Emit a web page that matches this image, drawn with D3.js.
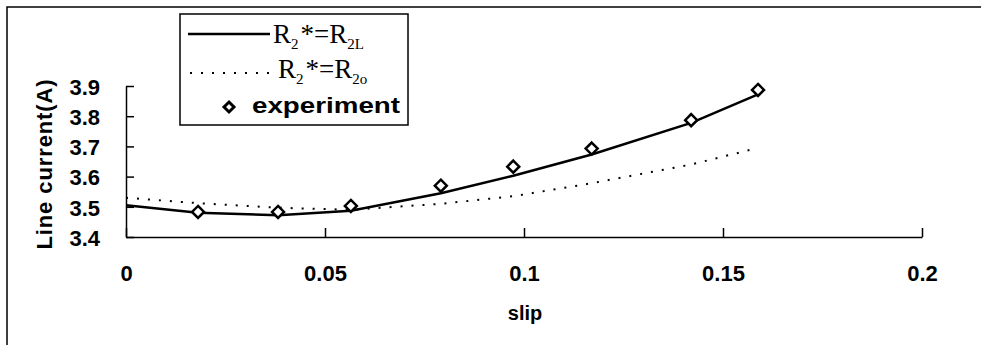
<!DOCTYPE html>
<html>
<head>
<meta charset="utf-8">
<script src="https://cdn.jsdelivr.net/npm/d3@7"></script>
<style>
  html, body { margin: 0; padding: 0; background: #fff; }
  svg { display: block; }
  .axis text { font-family: "Liberation Sans", Arial, sans-serif; font-weight: bold; font-size: 22px; fill: #000; }
  .axis path, .axis line { stroke: #000; stroke-width: 1.5; }
</style>
</head>
<body>
<div id="chart"></div>
<script>
// slip values of the measured points
var slip = [0.0181, 0.0382, 0.0565, 0.0791, 0.0973, 0.117, 0.142, 0.1588];
var experiment = [3.483, 3.483, 3.503, 3.57, 3.633, 3.693, 3.787, 3.887];

// computed curves (start at slip 0, then at the measured slips)
var curveSlip = [0, 0.0181, 0.0382, 0.0565, 0.0791, 0.0973, 0.117, 0.142, 0.1588];
var r2L = [3.505, 3.48, 3.472, 3.487, 3.545, 3.603, 3.673, 3.778, 3.872];
var r2o = [3.53, 3.512, 3.497, 3.49, 3.51, 3.535, 3.578, 3.64, 3.695];

var xTicks = [0, 0.05, 0.1, 0.15, 0.2];
var xTickLabels = ["0", "0.05", "0.1", "0.15", "0.2"];
var yTicks = [3.4, 3.5, 3.6, 3.7, 3.8, 3.9];
var yTickLabels = ["3.4", "3.5", "3.6", "3.7", "3.8", "3.9"];

var W = 981, H = 345;

var svg = d3.select("#chart").append("svg")
    .attr("width", W)
    .attr("height", H);

svg.append("rect").attr("width", W).attr("height", H).attr("fill", "#fff");

// outer frame (right and bottom edges fall outside the picture)
svg.append("rect")
    .attr("x", 7).attr("y", 7)
    .attr("width", W + 10).attr("height", H + 10)
    .attr("fill", "none").attr("stroke", "#000").attr("stroke-width", 1.5);

var x = d3.scaleLinear().domain([0, 0.2]).range([126, 922]);
var y = d3.scaleLinear().domain([3.4, 3.9]).range([237, 86]);

var xAxis = d3.axisBottom(x)
    .tickValues(xTicks)
    .tickFormat(function (d, i) { return xTickLabels[i]; })
    .tickSizeInner(-9)
    .tickSizeOuter(0)
    .tickPadding(28);

var yAxis = d3.axisLeft(y)
    .tickValues(yTicks)
    .tickFormat(function (d, i) { return yTickLabels[i]; })
    .tickSizeInner(-8)
    .tickSizeOuter(0)
    .tickPadding(26);

svg.append("g").attr("class", "axis")
    .attr("transform", "translate(0," + y(3.4) + ")")
    .call(xAxis)
    .selectAll("text").attr("dy", "0.71em");

svg.append("g").attr("class", "axis")
    .attr("transform", "translate(" + x(0) + ",0)")
    .call(yAxis)
    .selectAll("text").attr("dy", "0.38em");

// axis titles
svg.append("text")
    .attr("x", 525).attr("y", 320)
    .attr("text-anchor", "middle")
    .style("font-family", "'Liberation Sans', Arial, sans-serif")
    .style("font-weight", "bold")
    .style("font-size", "20px")
    .text("slip");

svg.append("text")
    .attr("transform", "translate(52,164) rotate(-90)")
    .attr("text-anchor", "middle")
    .style("font-family", "'Liberation Sans', Arial, sans-serif")
    .style("font-weight", "bold")
    .style("font-size", "22px")
    .style("letter-spacing", "0.9px")
    .text("Line current(A)");

// series
var line = d3.line()
    .x(function (d) { return x(d[0]); })
    .y(function (d) { return y(d[1]); });

svg.append("path")
    .datum(d3.zip(curveSlip, r2o))
    .attr("d", line)
    .attr("fill", "none")
    .attr("stroke", "#000")
    .attr("stroke-width", 2)
    .attr("stroke-dasharray", "2,9");

svg.append("path")
    .datum(d3.zip(curveSlip, r2L))
    .attr("d", line)
    .attr("fill", "none")
    .attr("stroke", "#000")
    .attr("stroke-width", 2.5);

var diamond = function (cx, cy, r) {
    return "M" + cx + "," + (cy - r) + "L" + (cx + r) + "," + cy + "L" + cx + "," + (cy + r) + "L" + (cx - r) + "," + cy + "Z";
};

svg.append("g").selectAll("path")
    .data(d3.zip(slip, experiment))
    .enter().append("path")
    .attr("d", function (d) { return diamond(x(d[0]), y(d[1]), 6); })
    .attr("fill", "#fff")
    .attr("stroke", "#000")
    .attr("stroke-width", 2.5);

// legend
var lg = svg.append("g");
lg.append("rect")
    .attr("x", 180).attr("y", 14)
    .attr("width", 228).attr("height", 111)
    .attr("fill", "#fff").attr("stroke", "#000").attr("stroke-width", 1.5);

lg.append("line")
    .attr("x1", 188).attr("x2", 270).attr("y1", 34).attr("y2", 34)
    .attr("stroke", "#000").attr("stroke-width", 2.5);
lg.append("line")
    .attr("x1", 190).attr("x2", 270).attr("y1", 73).attr("y2", 73)
    .attr("stroke", "#000").attr("stroke-width", 2).attr("stroke-dasharray", "2,9");
lg.append("path")
    .attr("d", diamond(229, 107, 5))
    .attr("fill", "#fff").attr("stroke", "#000").attr("stroke-width", 3);

var serifLabel = function (xPos, yPos, sub) {
    var t = lg.append("text")
        .attr("x", xPos).attr("y", yPos)
        .style("font-family", "'Liberation Serif', 'Times New Roman', serif")
        .style("font-size", "27px");
    t.append("tspan").text("R");
    t.append("tspan").attr("dy", 6).style("font-size", "15px").text("2");
    t.append("tspan").attr("dy", -6).attr("dx", 2).text("*=R");
    t.append("tspan").attr("dy", 6).style("font-size", "15px").text(sub);
};
serifLabel(273, 43, "2L");
serifLabel(278, 78, "2o");

lg.append("text")
    .attr("x", 252).attr("y", 113)
    .attr("textLength", 148)
    .attr("lengthAdjust", "spacingAndGlyphs")
    .style("font-family", "'Liberation Sans', Arial, sans-serif")
    .style("font-weight", "bold")
    .style("font-size", "22px")
    .text("experiment");
</script>
</body>
</html>
